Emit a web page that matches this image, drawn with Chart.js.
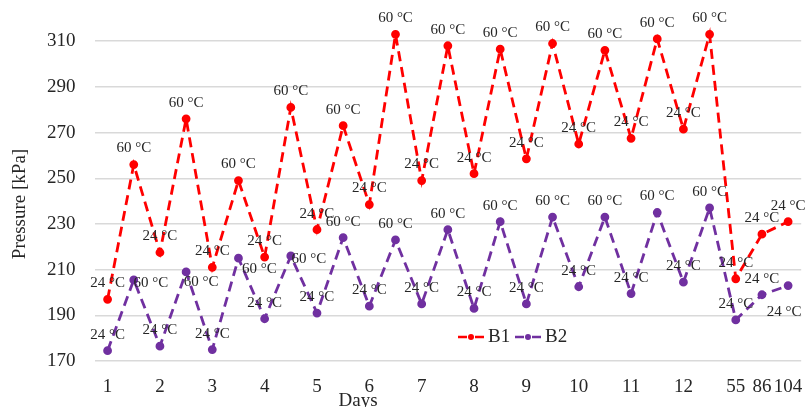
<!DOCTYPE html>
<html>
<head>
<meta charset="utf-8">
<script src="https://cdn.jsdelivr.net/npm/chart.js@4"></script>
<style>
  html, body { margin: 0; padding: 0; background: #fff; overflow: hidden; }
  #wrap { width: 807px; height: 407px; }
</style>
</head>
<body>
<div id="wrap"><canvas id="pressure-chart"></canvas></div>
<script>
// Days on the x axis (blank entries are the half-day points)
const days = ['1', '', '2', '', '3', '', '4', '', '5', '', '6', '', '7', '', '8', '', '9', '', '10', '', '11', '', '12', '', '55', '86', '104'];

const b1 = [197, 256, 217.5, 276, 211, 249, 215.5, 281, 227.5, 273, 238.5, 313, 249, 308, 252, 306.5, 258.5, 309, 265, 306, 267.5, 311, 271.5, 313, 206, 225.5, 231];
const b2 = [174.5, 205.5, 176.5, 209, 175, 215, 188.5, 216, 191, 224, 194, 223, 195, 227.5, 193, 231, 195, 233, 202.5, 233, 199.5, 235, 204.5, 237, 188, 199, 203];

const temps = ['24 °C', '60 °C', '24 °C', '60 °C', '24 °C', '60 °C', '24 °C', '60 °C', '24 °C', '60 °C', '24 °C', '60 °C', '24 °C', '60 °C',
    '24 °C', '60 °C', '24 °C', '60 °C', '24 °C', '60 °C', '24 °C', '60 °C', '24 °C', '60 °C', '24 °C', '24 °C', '24 °C'];

const yTicks = [170, 190, 210, 230, 250, 270, 290, 310];

const FONT = "'Liberation Serif', 'Times New Roman', serif";

// a few labels sit beside the point instead of above it
const labelShift = {
    1: { 1: [17, 3], 3: [15, 10], 5: [21, 11], 7: [18, 3], 26: [-4, 26] }
};

const tempLabels = {
    id: 'tempLabels',
    afterDatasetsDraw(chart) {
        const ctx = chart.ctx;
        ctx.save();
        ctx.font = '15px ' + FONT;
        ctx.fillStyle = '#262626';
        ctx.textAlign = 'center';
        ctx.textBaseline = 'middle';
        chart.data.datasets.forEach((ds, i) => {
            const meta = chart.getDatasetMeta(i);
            meta.data.forEach((pt, j) => {
                const shift = (labelShift[i] && labelShift[i][j]) || [0, -16];
                ctx.fillText(temps[j], pt.x + shift[0], pt.y + shift[1]);
            });
        });
        ctx.restore();
    }
};

// legend inside the plot, axis titles where the original puts them
const extras = {
    id: 'extras',
    afterDraw(chart) {
        const ctx = chart.ctx;
        const area = chart.chartArea;
        ctx.save();

        const ly = area.bottom - 24;
        let x = 458;
        chart.data.datasets.forEach(ds => {
            ctx.strokeStyle = ds.borderColor;
            ctx.fillStyle = ds.borderColor;
            ctx.lineWidth = 2.5;
            ctx.beginPath();
            ctx.moveTo(x, ly);
            ctx.lineTo(x + 9, ly);
            ctx.moveTo(x + 17, ly);
            ctx.lineTo(x + 26, ly);
            ctx.stroke();
            ctx.beginPath();
            ctx.arc(x + 13, ly, 3, 0, Math.PI * 2);
            ctx.fill();
            ctx.fillStyle = '#262626';
            ctx.font = '19px ' + FONT;
            ctx.textAlign = 'left';
            ctx.textBaseline = 'middle';
            ctx.fillText(ds.label, x + 30, ly);
            x += 57;
        });

        ctx.fillStyle = '#262626';
        ctx.font = '19px ' + FONT;
        ctx.textAlign = 'center';
        ctx.textBaseline = 'middle';
        ctx.fillText('Days', 358, 401);

        ctx.translate(20, 204);
        ctx.rotate(-Math.PI / 2);
        ctx.fillText('Pressure [kPa]', 0, 0);
        ctx.restore();
    }
};

const pressureCanvas = document.getElementById('pressure-chart');

let pressureChart = new Chart(pressureCanvas, {
    type: 'line',
    data: {
        labels: days,
        datasets: [{
            label: 'B1',
            data: b1,
            borderColor: '#ff0000',
            backgroundColor: '#ff0000',
            borderWidth: 2.8,
            borderDash: [10, 6],
            pointRadius: 3,
            pointHoverRadius: 3,
            tension: 0
        }, {
            label: 'B2',
            data: b2,
            borderColor: '#7030a0',
            backgroundColor: '#7030a0',
            borderWidth: 2.8,
            borderDash: [10, 6],
            pointRadius: 3,
            pointHoverRadius: 3,
            tension: 0
        }]
    },
    options: {
        responsive: true,
        maintainAspectRatio: false,
        animation: false,
        layout: {
            padding: { left: 47, right: 2, top: 0, bottom: 9 }
        },
        plugins: {
            legend: { display: false },
            tooltip: { enabled: false }
        },
        scales: {
            x: {
                offset: true,
                grid: { display: false, drawTicks: false },
                border: { display: false },
                ticks: {
                    autoSkip: false,
                    maxRotation: 0,
                    padding: 15,
                    color: '#262626',
                    font: { family: FONT, size: 19 }
                },
                afterFit: scale => {
                    scale.height = 37;
                    scale.paddingLeft = 0;
                    scale.paddingRight = 0;
                }
            },
            y: {
                min: 170,
                max: 325.5,
                afterBuildTicks: axis => {
                    axis.ticks = yTicks.map(v => ({ value: v }));
                },
                grid: { color: '#d9d9d9', lineWidth: 1.5, drawTicks: false },
                border: { display: false },
                ticks: {
                    padding: 19,
                    color: '#262626',
                    font: { family: FONT, size: 19 }
                },
                afterFit: scale => {
                    scale.width = 47.5;
                    scale.paddingTop = 0;
                    scale.paddingBottom = 0;
                }
            }
        }
    },
    plugins: [tempLabels, extras]
});
</script>
</body>
</html>
